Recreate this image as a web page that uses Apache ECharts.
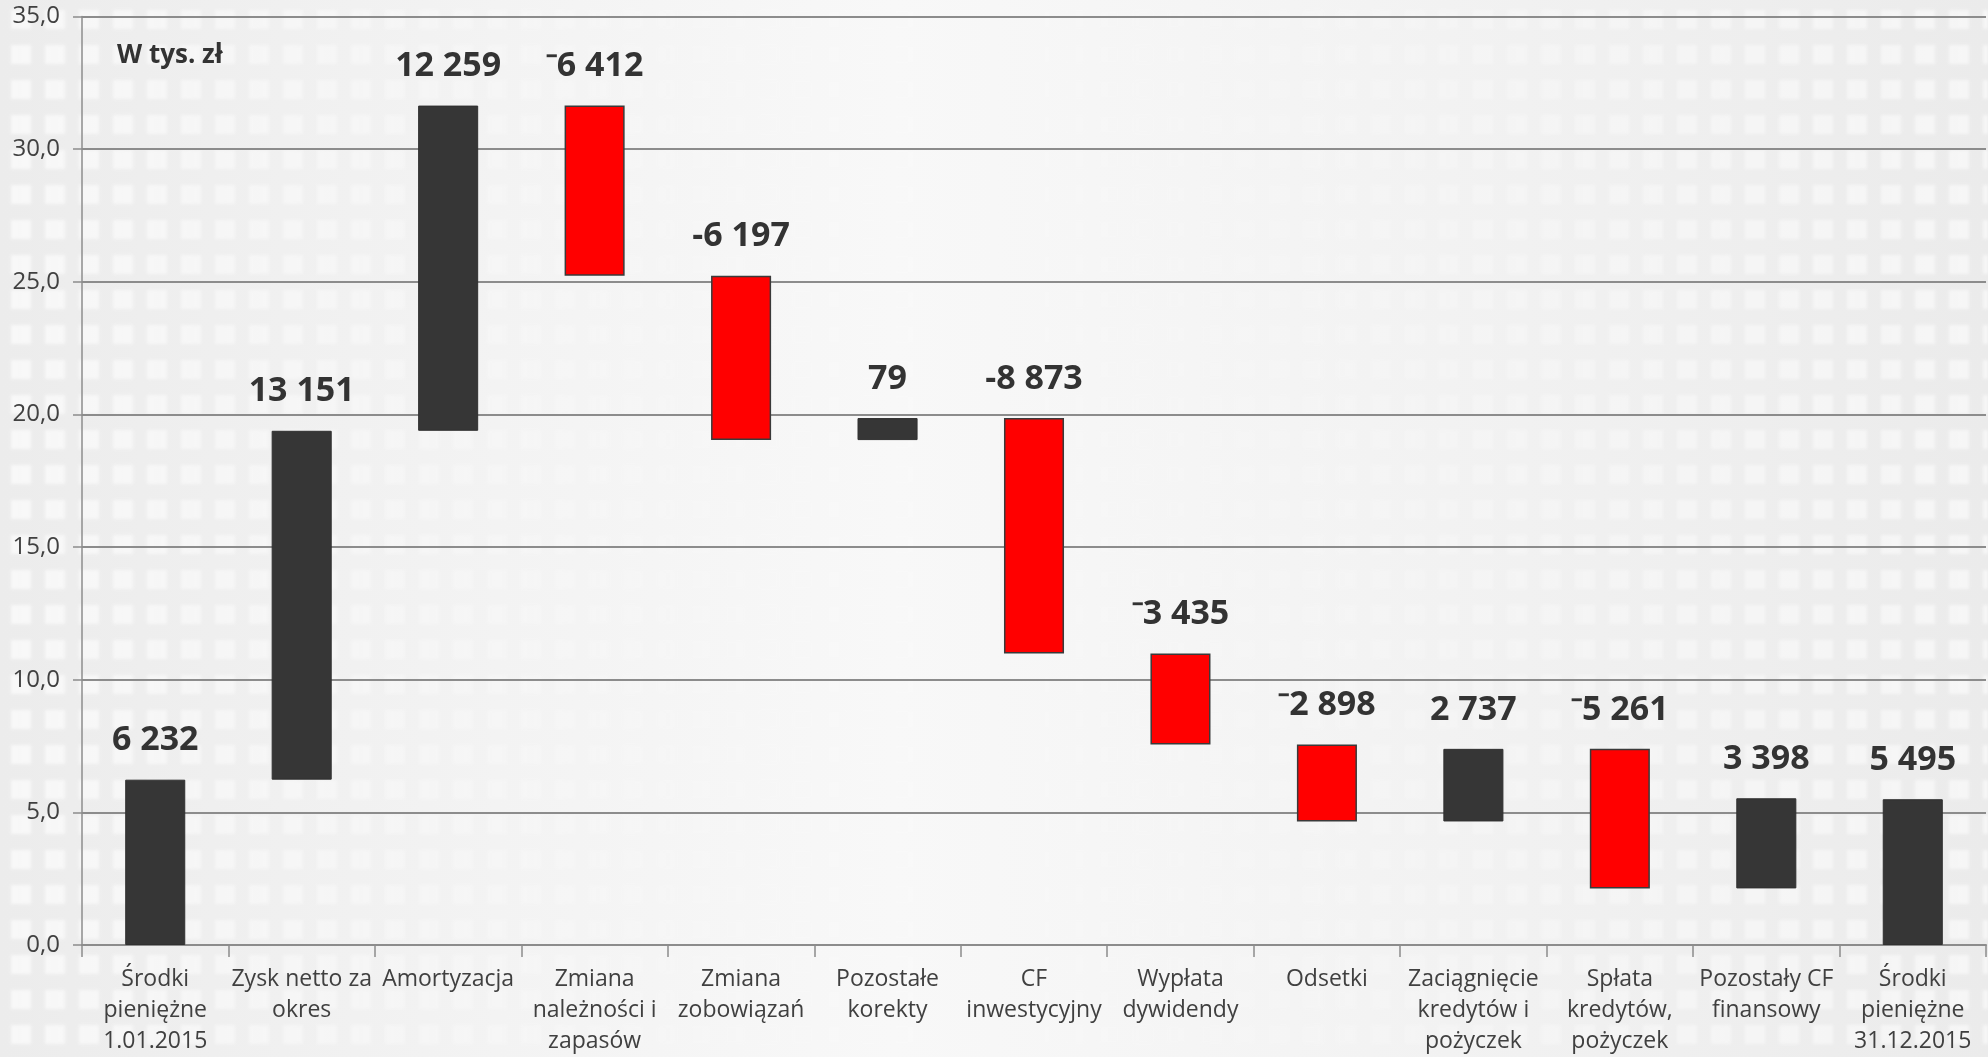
<!DOCTYPE html>
<html>
<head>
<meta charset="utf-8">
<script src="https://cdn.jsdelivr.net/npm/echarts@6/dist/echarts.min.js"></script>
<style>
  html, body { margin: 0; padding: 0; width: 1988px; height: 1057px; overflow: hidden; }
  #bg { position: absolute; left: 0; top: 0; width: 1988px; height: 1057px;
        background: linear-gradient(to right, #ececec 0%, #f3f3f3 25%, #f8f8f8 45%, #f4f4f4 65%, #ebebeb 100%); }
  #pattern { position: absolute; left: 0; top: 0; width: 1988px; height: 1057px; opacity: 0.7;
        background-image: url("data:image/svg+xml;utf8,<svg xmlns='http://www.w3.org/2000/svg' width='34' height='35'><rect x='7' y='8' width='20' height='19' fill='%23ffffff'/></svg>");
        background-position: 4px 2px;
        filter: blur(1.5px);
        -webkit-mask-image: linear-gradient(to right, rgba(0,0,0,0.9) 0%, rgba(0,0,0,0.55) 15%, rgba(0,0,0,0.1) 35%, rgba(0,0,0,0) 50%, rgba(0,0,0,0.15) 65%, rgba(0,0,0,0.55) 85%, rgba(0,0,0,0.8) 100%);
        mask-image: linear-gradient(to right, rgba(0,0,0,0.9) 0%, rgba(0,0,0,0.55) 15%, rgba(0,0,0,0.1) 35%, rgba(0,0,0,0) 50%, rgba(0,0,0,0.15) 65%, rgba(0,0,0,0.55) 85%, rgba(0,0,0,0.8) 100%); }
  #chart { position: absolute; left: 0; top: 0; width: 1988px; height: 1057px; }
</style>
</head>
<body>
<div id="bg"></div>
<div id="pattern"></div>
<div id="chart"></div>
<script>
// Categories (axis labels)
var categories = [
  "Środki\npieniężne\n1.01.2015",
  "Zysk netto za\nokres",
  "Amortyzacja",
  "Zmiana\nnależności i\nzapasów",
  "Zmiana\nzobowiązań",
  "Pozostałe\nkorekty",
  "CF\ninwestycyjny",
  "Wypłata\ndywidendy",
  "Odsetki",
  "Zaciągnięcie\nkredytów i\npożyczek",
  "Spłata\nkredytów,\npożyczek",
  "Pozostały CF\nfinansowy",
  "Środki\npieniężne\n31.12.2015"
];
// Change of each step in mln zł as drawn (totals are drawn from zero)
var deltas = [6.232, 13.151, 12.259, -6.412, -6.197, 0.83, -8.873, -3.435, -2.898, 2.737, -5.261, 3.398, 5.495];
// Which columns are totals (start at zero)
var isTotal = [true, false, false, false, false, false, false, false, false, false, false, false, true];
// Value labels as printed on the chart
var valueLabels = ["6 232", "13 151", "12 259", "⁻6 412", "-6 197", "79", "-8 873", "⁻3 435", "⁻2 898", "2 737", "⁻5 261", "3 398", "5 495"];
// Y axis range
var yMin = 0, yMax = 35, yStep = 5;

var baseData = [], barData = [];
var running = 0;
for (var i = 0; i < deltas.length; i++) {
  var start = isTotal[i] ? 0 : running;
  var end = isTotal[i] ? deltas[i] : running + deltas[i];
  baseData.push(Math.min(start, end));
  barData.push({
    value: Math.abs(end - start),
    itemStyle: deltas[i] < 0
      ? { color: '#ff0000', borderColor: '#3a3a3a', borderWidth: 1.5 }
      : { color: '#363636', borderColor: '#303030', borderWidth: 1 }
  });
  running = end;
}

var font = "'Open Sans', sans-serif";
var chart = echarts.init(document.getElementById('chart'), null, { renderer: 'canvas' });
chart.setOption({
  backgroundColor: 'transparent',
  animation: false,
  textStyle: { fontFamily: font },
  title: {
    text: 'W tys. zł', left: 112, top: 38,
    textStyle: { fontFamily: font, fontSize: 26, fontWeight: 'bold', color: '#333333' }
  },
  grid: { left: 82, right: 2, top: 16.5, bottom: 112, containLabel: false },
  xAxis: {
    type: 'category',
    data: categories,
    axisLine: { lineStyle: { color: '#8c8c8c', width: 2 } },
    axisTick: { show: true, length: 12, lineStyle: { color: '#8c8c8c', width: 1.5 } },
    axisLabel: { interval: 0, color: '#404040', fontSize: 23, lineHeight: 31, margin: 19, fontFamily: font }
  },
  yAxis: {
    type: 'value', min: yMin, max: yMax, interval: yStep,
    axisLine: { show: true, lineStyle: { color: '#8c8c8c', width: 1.5 } },
    axisTick: { show: true, length: 9, lineStyle: { color: '#8c8c8c', width: 1.5 } },
    splitLine: { lineStyle: { color: '#8c8c8c', width: 2 } },
    axisLabel: {
      color: '#404040', fontSize: 24, margin: 22, fontFamily: font,
      formatter: function (v) { return v.toFixed(1).replace('.', ','); }
    }
  },
  series: [
    { type: 'bar', stack: 'wf', data: baseData, itemStyle: { color: 'transparent' }, barWidth: '41%', silent: true },
    {
      type: 'bar', stack: 'wf', data: barData, barWidth: '41%',
      label: {
        show: true, position: 'top', distance: 22,
        fontSize: 34, fontWeight: 'bold', color: '#333333', fontFamily: font,
        formatter: function (p) { return valueLabels[p.dataIndex]; }
      }
    }
  ]
});
</script>
</body>
</html>
